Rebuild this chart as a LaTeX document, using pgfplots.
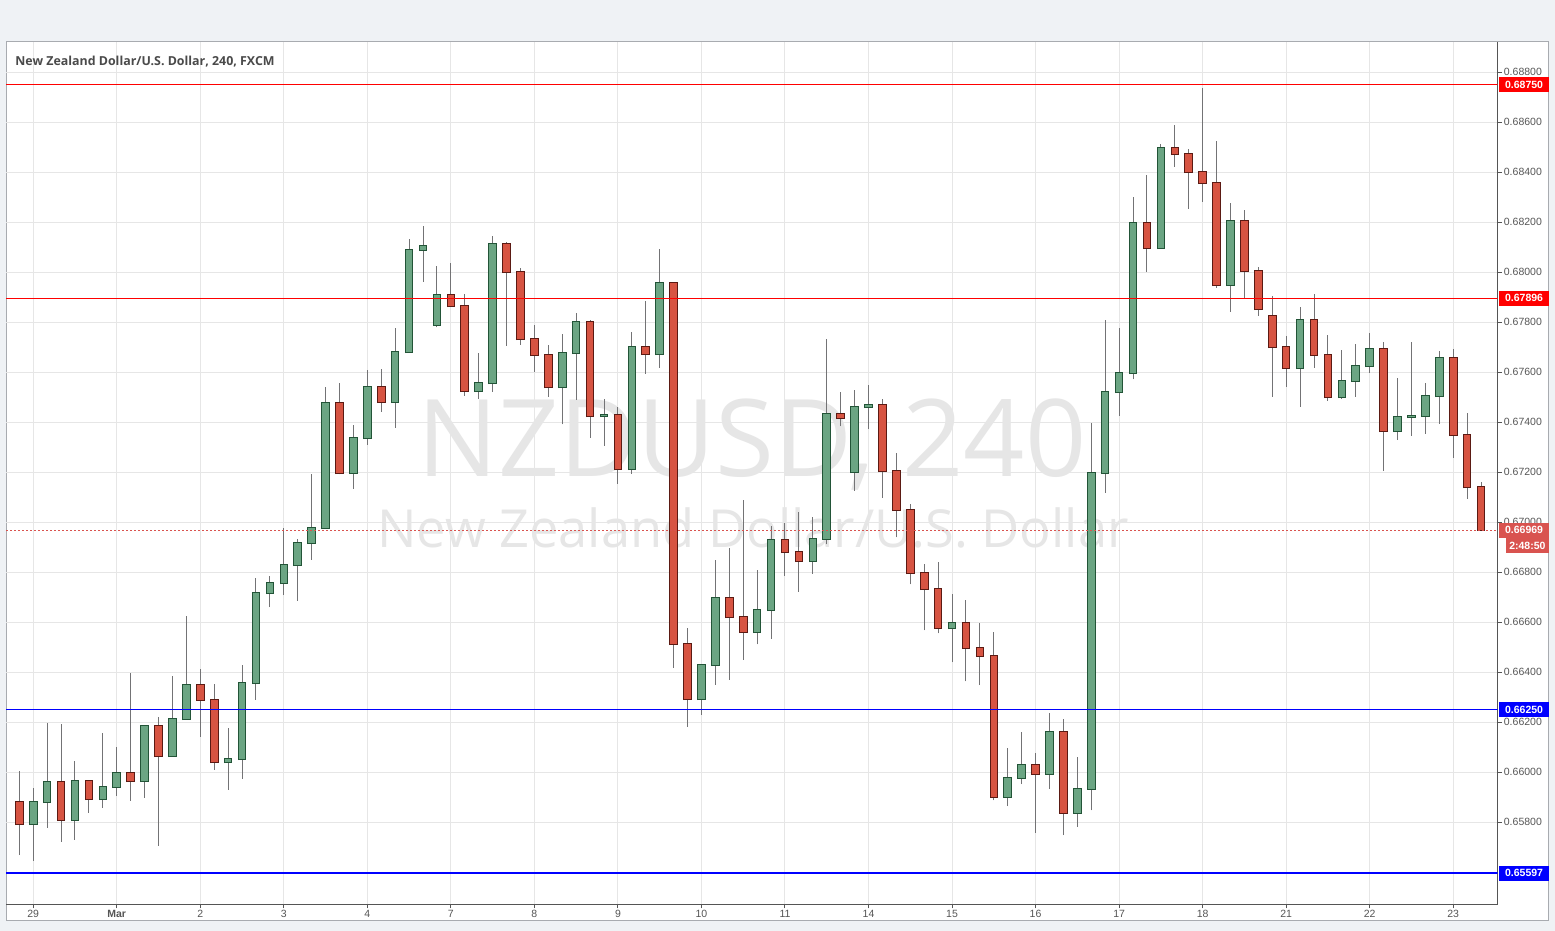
\documentclass[border=0pt]{standalone}
\usepackage{pgfplots}
\pgfplotsset{compat=1.18}
\usepackage{pgfplotstable}
\usepackage{fontspec}
\setmainfont{Liberation Sans}
\newfontfamily\wmfont{Open Sans}
\newfontfamily\axisfont{Liberation Sans}
\definecolor{bgcol}{HTML}{EFF2F5}
\definecolor{panelborder}{HTML}{A8ABB0}
\definecolor{gridcol}{HTML}{E6E6E6}
\definecolor{axiscol}{HTML}{555555}
\definecolor{labelcol}{HTML}{555555}
\definecolor{upfill}{HTML}{6BA583}
\definecolor{upline}{HTML}{225437}
\definecolor{dnfill}{HTML}{D75442}
\definecolor{dnline}{HTML}{5B1A13}
\definecolor{wick}{HTML}{737375}
\definecolor{wmcol}{HTML}{E6E6E6}
\definecolor{lvlred}{HTML}{FF0000}
\definecolor{lvlblue}{HTML}{0000FF}
\definecolor{pricecol}{HTML}{D9534F}
\definecolor{titlecol}{HTML}{4A4A4A}

\pgfplotstableread{
i O H L C
0 0.65880 0.66005 0.65669 0.65792
1 0.65792 0.65936 0.65647 0.65880
2 0.65880 0.66196 0.65779 0.65960
3 0.65960 0.66192 0.65723 0.65808
4 0.65808 0.66044 0.65731 0.65964
5 0.65964 0.65968 0.65839 0.65892
6 0.65892 0.66156 0.65859 0.65940
7 0.65940 0.66101 0.65907 0.65996
8 0.65996 0.66396 0.65887 0.65964
9 0.65964 0.66188 0.65899 0.66184
10 0.66184 0.66220 0.65707 0.66064
11 0.66064 0.66384 0.66064 0.66212
12 0.66212 0.66625 0.66212 0.66348
13 0.66348 0.66412 0.66143 0.66288
14 0.66288 0.66352 0.66011 0.66040
15 0.66040 0.66176 0.65931 0.66052
16 0.66052 0.66428 0.65975 0.66356
17 0.66356 0.66777 0.66291 0.66716
18 0.66716 0.66784 0.66661 0.66756
19 0.66756 0.66977 0.66709 0.66828
20 0.66828 0.66932 0.66687 0.66916
21 0.66916 0.67193 0.66851 0.66976
22 0.66976 0.67540 0.66976 0.67476
23 0.67476 0.67556 0.67192 0.67196
24 0.67196 0.67389 0.67135 0.67336
25 0.67336 0.67608 0.67311 0.67540
26 0.67540 0.67612 0.67443 0.67480
27 0.67480 0.67777 0.67379 0.67680
28 0.67680 0.68132 0.67680 0.68088
29 0.68088 0.68184 0.67963 0.68104
30 0.67788 0.68024 0.67780 0.67908
31 0.67908 0.68037 0.67864 0.67864
32 0.67864 0.67913 0.67507 0.67524
33 0.67524 0.67677 0.67495 0.67556
34 0.67556 0.68145 0.67523 0.68112
35 0.68112 0.68120 0.67707 0.68000
36 0.68000 0.68016 0.67711 0.67732
37 0.67732 0.67788 0.67603 0.67668
38 0.67668 0.67708 0.67503 0.67540
39 0.67540 0.67752 0.67392 0.67676
40 0.67676 0.67836 0.67491 0.67800
41 0.67800 0.67808 0.67339 0.67424
42 0.67424 0.67492 0.67307 0.67428
43 0.67428 0.67460 0.67155 0.67212
44 0.67212 0.67760 0.67195 0.67700
45 0.67700 0.67885 0.67595 0.67672
46 0.67672 0.68093 0.67619 0.67956
47 0.67956 0.67956 0.66419 0.66512
48 0.66512 0.66577 0.66183 0.66292
49 0.66292 0.66435 0.66231 0.66428
50 0.66428 0.66849 0.66351 0.66696
51 0.66696 0.66897 0.66371 0.66620
52 0.66620 0.67088 0.66451 0.66560
53 0.66560 0.66809 0.66512 0.66648
54 0.66648 0.66984 0.66535 0.66928
55 0.66928 0.66996 0.66787 0.66880
56 0.66880 0.67040 0.66723 0.66844
57 0.66844 0.67020 0.66795 0.66932
58 0.66932 0.67732 0.66912 0.67432
59 0.67432 0.67520 0.67384 0.67416
60 0.67200 0.67528 0.67127 0.67460
61 0.67460 0.67548 0.67372 0.67468
62 0.67468 0.67492 0.67099 0.67204
63 0.67204 0.67276 0.66940 0.67048
64 0.67048 0.67072 0.66752 0.66796
65 0.66796 0.66832 0.66568 0.66732
66 0.66732 0.66840 0.66556 0.66576
67 0.66576 0.66712 0.66440 0.66596
68 0.66596 0.66688 0.66364 0.66496
69 0.66496 0.66596 0.66349 0.66466
70 0.66466 0.66560 0.65888 0.65902
71 0.65902 0.66099 0.65865 0.65978
72 0.65978 0.66160 0.65953 0.66030
73 0.66030 0.66076 0.65759 0.65994
74 0.65994 0.66236 0.65934 0.66163
75 0.66163 0.66215 0.65749 0.65837
76 0.65837 0.66062 0.65782 0.65934
77 0.65934 0.67398 0.65848 0.67196
78 0.67196 0.67808 0.67119 0.67520
79 0.67520 0.67777 0.67426 0.67596
80 0.67596 0.68301 0.67572 0.68196
81 0.68196 0.68389 0.68003 0.68096
82 0.68096 0.68513 0.68096 0.68496
83 0.68496 0.68589 0.68423 0.68472
84 0.68472 0.68493 0.68255 0.68400
85 0.68400 0.68737 0.68283 0.68356
86 0.68356 0.68525 0.67939 0.67948
87 0.67948 0.68277 0.67843 0.68204
88 0.68204 0.68249 0.67896 0.68004
89 0.68004 0.68021 0.67827 0.67852
90 0.67824 0.67905 0.67503 0.67700
91 0.67700 0.67744 0.67543 0.67616
92 0.67616 0.67860 0.67463 0.67808
93 0.67808 0.67913 0.67619 0.67668
94 0.67668 0.67749 0.67487 0.67500
95 0.67500 0.67689 0.67495 0.67564
96 0.67564 0.67713 0.67503 0.67624
97 0.67624 0.67757 0.67599 0.67692
98 0.67692 0.67721 0.67207 0.67364
99 0.67364 0.67577 0.67330 0.67420
100 0.67420 0.67721 0.67347 0.67424
101 0.67424 0.67557 0.67355 0.67504
102 0.67504 0.67685 0.67395 0.67656
103 0.67656 0.67693 0.67259 0.67348
104 0.67348 0.67437 0.67095 0.67140
105 0.67140 0.67161 0.66965 0.66969
}\candles

\begin{document}
\begin{tikzpicture}
\fill[bgcol] (0,0) rectangle (777.5pt,465.5pt);
\filldraw[fill=white,draw=panelborder,line width=0.5pt] (3pt,5pt) rectangle (774.25pt,444.5pt);
% watermark
\node[text=wmcol,anchor=base,inner sep=0pt,font=\wmfont\fontsize{53.6}{53.6}\selectfont] at (376pt,227pt) {NZDUSD, 240};
\node[text=wmcol,anchor=base,inner sep=0pt,font=\wmfont\fontsize{26.2}{26.2}\selectfont] at (376.5pt,191.5pt) {New Zealand Dollar/U.S. Dollar};
\begin{axis}[
  at={(3pt,13.25pt)}, anchor=south west,
  scale only axis, width=745.75pt, height=431.25pt,
  xmin=-0.955, xmax=106.18, ymin=0.654712, ymax=0.689212,
  clip mode=individual,
  axis x line*=bottom, axis y line*=right,
  axis line style={axiscol, line width=0.5pt},
  xtick={1,7,13,19,25,31,37,43,49,55,61,67,73,79,85,91,97,103},
  xticklabels={29,\textbf{Mar},2,3,4,7,8,9,10,11,14,15,16,17,18,21,22,23},
  ytick={0.658,0.660,0.662,0.664,0.666,0.668,0.670,0.672,0.674,0.676,0.678,0.680,0.682,0.684,0.686,0.688},
  scaled y ticks=false,
  yticklabel={\pgfmathprintnumber[fixed,fixed zerofill,precision=5,assume math mode=true]{\tick}},
  tick align=outside, major tick length=2pt,
  tick style={axiscol, line width=0.5pt},
  grid=major, major grid style={gridcol, line width=0.5pt},
  ticklabel style={font=\axisfont\fontsize{5.25}{6}\selectfont, text=labelcol},
  yticklabel style={anchor=west, inner sep=0pt, xshift=1pt},
  xticklabel style={anchor=north, inner sep=0pt, yshift=-0.5pt},
  candle/.style={forget plot, draw=none, mark=none,
    error bars/.cd, y dir=plus, y explicit, error mark=none},
]
% wicks (low to high)
\addplot[candle, error bar style={draw=wick, line width=0.5pt}]
  table[x=i, y=L, y error expr=\thisrow{H}-\thisrow{L}] {\candles};
% up bodies (open to close)
\addplot[x filter/.expression={\thisrow{C}<\thisrow{O} ? nan : x}, candle,
  error bar style={draw=upline, line width=4.3pt, line cap=butt, shorten <=-0.45pt, shorten >=-0.45pt}]
  table[x=i, y=O, y error expr=\thisrow{C}-\thisrow{O}] {\candles};
\addplot[x filter/.expression={\thisrow{C}<\thisrow{O} ? nan : x}, candle,
  error bar style={draw=upfill, line width=3.3pt, line cap=butt}]
  table[x=i, y=O, y error expr=\thisrow{C}-\thisrow{O}] {\candles};
% down bodies (close to open)
\addplot[x filter/.expression={\thisrow{C}<\thisrow{O} ? x : nan}, candle,
  error bar style={draw=dnline, line width=4.3pt, line cap=butt, shorten <=-0.45pt, shorten >=-0.45pt}]
  table[x=i, y=C, y error expr=\thisrow{O}-\thisrow{C}] {\candles};
\addplot[x filter/.expression={\thisrow{C}<\thisrow{O} ? x : nan}, candle,
  error bar style={draw=dnfill, line width=3.3pt, line cap=butt}]
  table[x=i, y=C, y error expr=\thisrow{O}-\thisrow{C}] {\candles};
% level lines
\addplot[lvlred, line width=0.5pt] coordinates {(-0.955,0.68750) (106.18,0.68750)};
\addplot[lvlred, line width=0.5pt] coordinates {(-0.955,0.67896) (106.18,0.67896)};
\addplot[lvlblue, line width=0.55pt] coordinates {(-0.955,0.66250) (106.18,0.66250)};
\addplot[lvlblue, line width=0.55pt] coordinates {(-0.955,0.65597) (106.18,0.65597)};
\addplot[pricecol, line width=0.5pt, dash pattern=on 1pt off 1pt] coordinates {(-0.955,0.66969) (106.18,0.66969)};
% anchor points for the price labels
\coordinate (pA) at (axis cs:106.18,0.68750);
\coordinate (pB) at (axis cs:106.18,0.67896);
\coordinate (pC) at (axis cs:106.18,0.66969);
\coordinate (pD) at (axis cs:106.18,0.66250);
\coordinate (pE) at (axis cs:106.18,0.65597);
\end{axis}
% price labels (drawn over the tick labels)
\tikzset{plab/.style={anchor=west, text=white, inner sep=0pt, minimum width=25pt, minimum height=7.5pt, font=\axisfont\bfseries\fontsize{5.25}{6}\selectfont, xshift=0.6pt}}
\node[plab, fill=lvlred] at (pA) {0.68750};
\node[plab, fill=lvlred] at (pB) {0.67896};
\node[plab, fill=pricecol] at (pC) {0.66969};
\node[anchor=north west, text=white, fill=pricecol, inner sep=0pt, minimum width=21.5pt, minimum height=7.5pt, font=\axisfont\bfseries\fontsize{5.25}{6}\selectfont, xshift=4pt, yshift=-4pt] at (pC) {2:48:50};
\node[plab, fill=lvlblue] at (pD) {0.66250};
\node[plab, fill=lvlblue] at (pE) {0.65597};
% title
\node[anchor=base west, inner sep=0pt, text=titlecol, font=\wmfont\bfseries\fontsize{6.2}{7}\selectfont] at (7.5pt,432.5pt) {New Zealand Dollar/U.S. Dollar, 240, FXCM};
\pgfresetboundingbox
\path[use as bounding box] (0,0) rectangle (777.5pt,465.5pt);
\end{tikzpicture}
\end{document}
